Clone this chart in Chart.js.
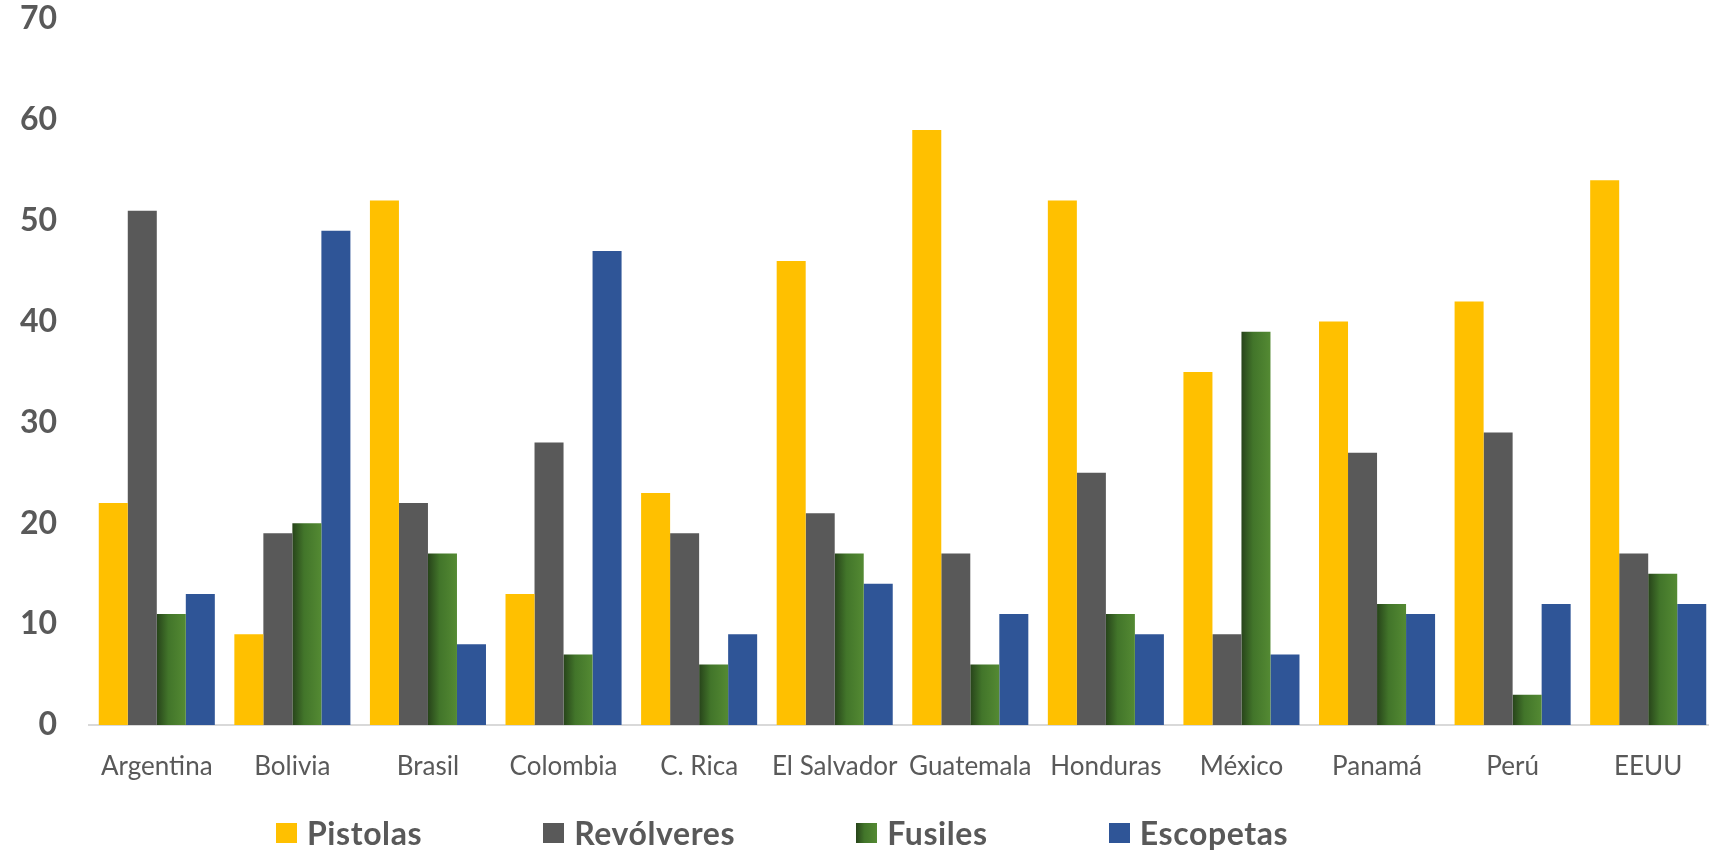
<!DOCTYPE html>
<html>
<head>
<meta charset="utf-8">
<script src="https://cdn.jsdelivr.net/npm/chart.js@4.4.1/dist/chart.umd.min.js"></script>
<style>
    html, body {
        margin: 0;
        padding: 0;
        background: #ffffff;
        overflow: hidden;
    }
    #contenedor {
        position: relative;
        width: 1709px;
        height: 850px;
    }
    #grafico {
        position: absolute;
        left: 0;
        top: 0;
    }
    #leyenda {
        position: absolute;
        left: 276px;
        top: 813px;
        display: flex;
        align-items: center;
        font-family: Lato, sans-serif;
        font-weight: bold;
        font-size: 32px;
        letter-spacing: 0.6px;
        color: #595959;
        white-space: nowrap;
    }
    .item {
        display: flex;
        align-items: center;
        margin-right: 121px;
    }
    .caja {
        width: 21px;
        height: 20px;
        margin-right: 10px;
    }
</style>
</head>
<body>
<div id="contenedor">
    <canvas id="grafico" width="1716" height="850"></canvas>
    <div id="leyenda"></div>
</div>
<script>
var paises = ['Argentina', 'Bolivia', 'Brasil', 'Colombia', 'C. Rica', 'El Salvador', 'Guatemala', 'Honduras', 'México', 'Panamá', 'Perú', 'EEUU'];
var pistolas = [22, 9, 52, 13, 23, 46, 59, 52, 35, 40, 42, 54];
var revolveres = [51, 19, 22, 28, 19, 21, 17, 25, 9, 27, 29, 17];
var fusiles = [11, 20, 17, 7, 6, 17, 6, 11, 39, 12, 3, 15];
var escopetas = [13, 49, 8, 47, 9, 14, 11, 9, 7, 11, 12, 12];

var nombresSeries = ['Pistolas', 'Revólveres', 'Fusiles', 'Escopetas'];
var coloresSeries = ['#FFC000', '#595959', '#548235', '#2F5597'];

var grisTexto = '#595959';
var porcentajeCategoria = 0.856;

// degradado horizontal de las barras de fusiles (oscuro a la izquierda)
function colorFusiles(context) {
    var chart = context.chart;
    var x = chart.scales.x;
    if (!chart.chartArea || !x || context.dataIndex === undefined) {
        return coloresSeries[2];
    }
    var anchoCategoria = x.getPixelForValue(1) - x.getPixelForValue(0);
    var anchoBarra = anchoCategoria * porcentajeCategoria / 4;
    var inicio = x.getPixelForValue(context.dataIndex);
    var g = chart.ctx.createLinearGradient(inicio, 0, inicio + anchoBarra, 0);
    g.addColorStop(0, '#27441a');
    g.addColorStop(0.4, '#42752a');
    g.addColorStop(1, '#548a33');
    return g;
}

var datosGrafico = {
    labels: paises,
    datasets: [{
        label: nombresSeries[0],
        data: pistolas,
        backgroundColor: coloresSeries[0]
    },
    {
        label: nombresSeries[1],
        data: revolveres,
        backgroundColor: coloresSeries[1]
    },
    {
        label: nombresSeries[2],
        data: fusiles,
        backgroundColor: colorFusiles
    },
    {
        label: nombresSeries[3],
        data: escopetas,
        backgroundColor: coloresSeries[3]
    }
    ]
};

var grafico = new Chart(document.getElementById('grafico'), {
    type: 'bar',
    data: datosGrafico,
    options: {
        responsive: false,
        animation: false,
        categoryPercentage: porcentajeCategoria,
        barPercentage: 1,
        layout: {
            padding: { top: 5, left: 20, right: 0, bottom: 68 }
        },
        plugins: {
            legend: { display: false },
            tooltip: { enabled: false }
        },
        scales: {
            x: {
                grid: { display: false, drawTicks: false },
                border: { display: true, color: '#d9d9d9', width: 2 },
                ticks: {
                    color: grisTexto,
                    padding: 26,
                    maxRotation: 0,
                    autoSkip: false,
                    font: { family: 'Lato', size: 26 }
                },
                afterFit: function (scale) {
                    scale.height = 57;
                    scale.paddingLeft = 0;
                    scale.paddingRight = 0;
                }
            },
            y: {
                min: 0,
                max: 70,
                grid: { display: false, drawTicks: false },
                border: { display: false },
                ticks: {
                    stepSize: 10,
                    color: grisTexto,
                    padding: 32,
                    font: { family: 'Lato', size: 32, weight: 'bold' }
                },
                afterFit: function (scale) {
                    scale.width = 69;
                    scale.paddingTop = 19;
                    scale.paddingBottom = 19;
                }
            }
        }
    }
});

// leyenda en HTML, con la separacion amplia del original
var leyenda = document.getElementById('leyenda');
for (var i = 0; i < nombresSeries.length; i++) {
    var fondo = coloresSeries[i];
    if (i === 2) {
        fondo = 'linear-gradient(to right, #27441a, #42752a 40%, #548a33)';
    }
    leyenda.innerHTML += '<div class="item"><div class="caja" style="background:' + fondo + '"></div><span>' + nombresSeries[i] + '</span></div>';
}
</script>
</body>
</html>
